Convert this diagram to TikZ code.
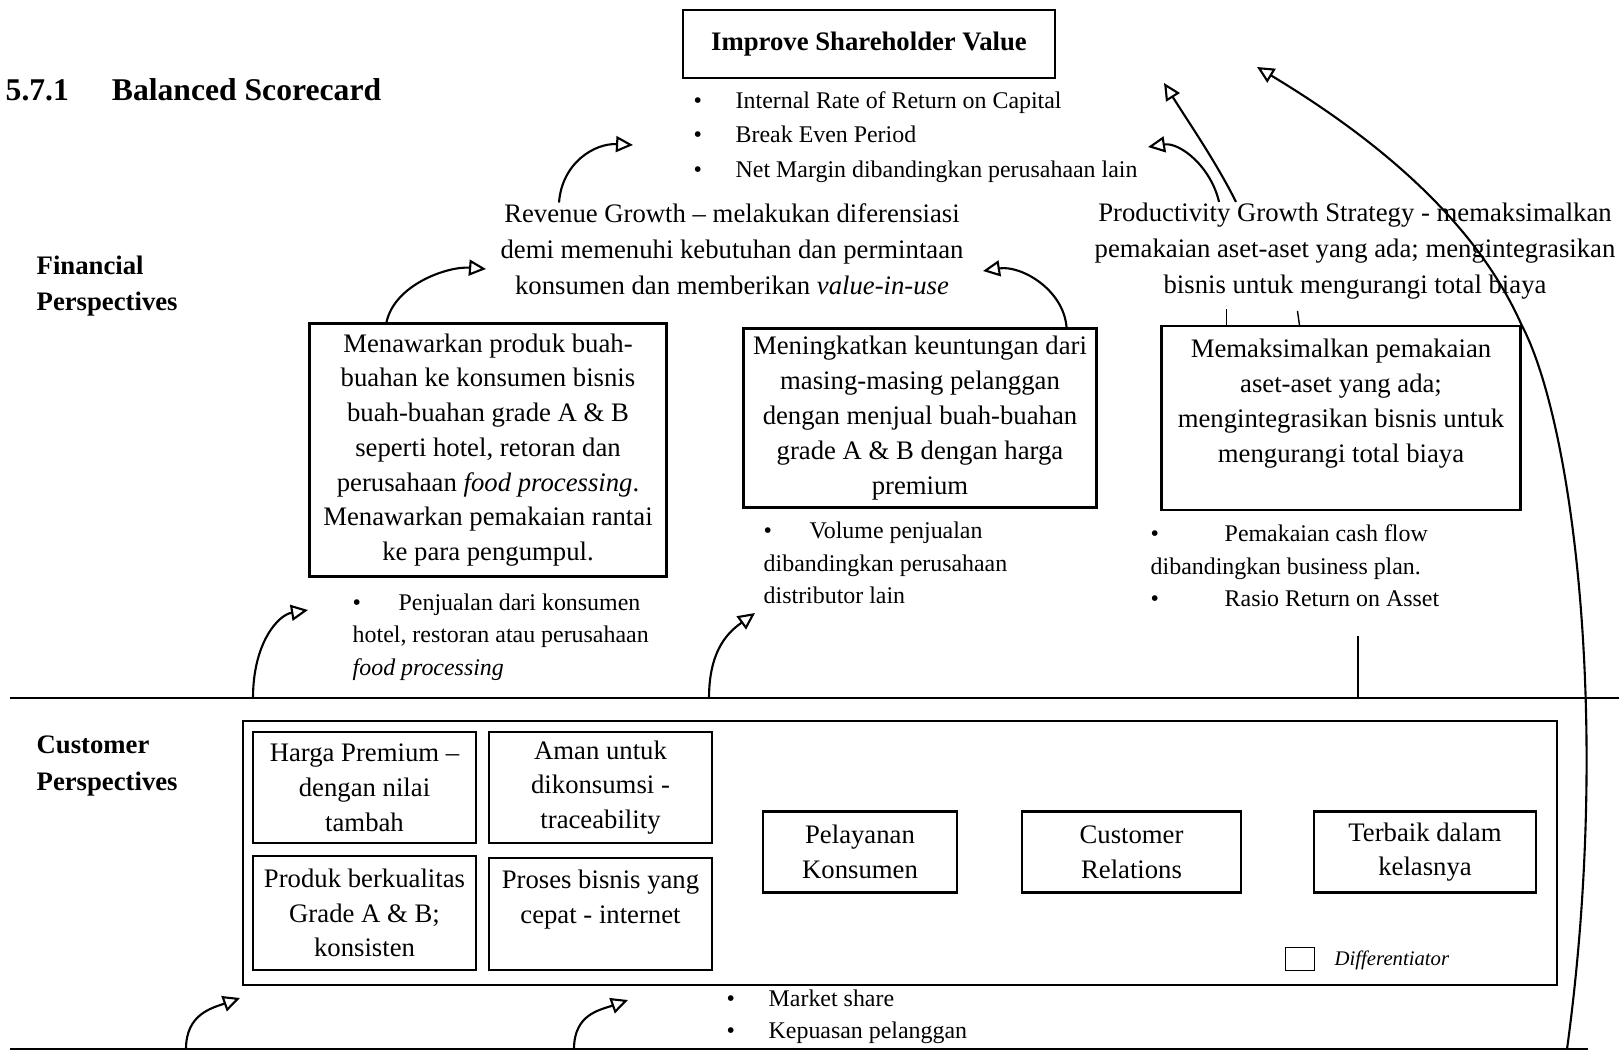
\documentclass[tikz,border=0pt]{standalone}
\usepackage{fontspec}
\setmainfont{Liberation Serif}
\usepackage{tikz}
\usetikzlibrary{arrows.meta,positioning}
\newcommand{\kpibullet}[1][4.2mm]{\makebox[#1][l]{\textbullet}}

\begin{document}
\begin{tikzpicture}[
  x=0.1mm, y=-0.1mm,
  goal/.style={draw, line width=0.6pt, align=center, inner sep=1pt, font=\fontsize{7.6}{9.9}\selectfont},
  driver/.style={align=center, inner sep=0pt, font=\fontsize{7.6}{10.3}\selectfont},
  kpi/.style={align=left, inner sep=0pt, anchor=west, font=\fontsize{6.8}{9.2}\selectfont},
  persp/.style={align=left, inner sep=0pt, anchor=west, font=\bfseries\fontsize{7.6}{10.3}\selectfont},
  flow/.style={-{Triangle[open, length=1.7mm, width=1.6mm]}, line width=0.6pt}
]
  \useasboundingbox (0,0) rectangle (1622,1053);

  % Heading
  \node[anchor=west, inner sep=0pt, font=\bfseries\fontsize{9}{11}\selectfont] (heading) at (5,90) {5.7.1\hspace{4.3mm}Balanced Scorecard};

  % Financial perspective
  \node[goal, font=\bfseries\fontsize{7.6}{9.9}\selectfont, minimum width=37.2mm, minimum height=6.8mm] (shv) at (869,44) {Improve Shareholder Value};
  \node[kpi, font=\fontsize{6.8}{9.8}\selectfont] (shvkpi) at (693,137) {\kpibullet Internal Rate of Return on Capital\\ \kpibullet Break Even Period\\ \kpibullet Net Margin dibandingkan perusahaan lain};

  \node[driver] (rev) at (732,249) {Revenue Growth -- melakukan diferensiasi\\demi memenuhi kebutuhan dan permintaan\\konsumen dan memberikan \textit{value-in-use}};
  \node[driver] (prod) at (1355,251) {Productivity Growth Strategy - memaksimalkan\\pemakaian aset-aset yang ada; mengintegrasikan\\bisnis untuk mengurangi total biaya};
  \node[persp] (finlabel) at (36,286) {Financial\\Perspectives};

  \node[goal, minimum width=35.7mm, minimum height=25.3mm] (offer) at (488,450) {Menawarkan produk buah-\\buahan ke konsumen bisnis\\buah-buahan grade A \& B\\seperti hotel, retoran dan\\perusahaan \textit{food processing}.\\Menawarkan pemakaian rantai\\ke para pengumpul.};
  \node[goal, minimum width=35.3mm, minimum height=17.9mm] (profit) at (920,418) {Meningkatkan keuntungan dari\\masing-masing pelanggan\\dengan menjual buah-buahan\\grade A \& B dengan harga\\premium};
  \node[goal, minimum width=35.9mm, minimum height=18.4mm] (asset) at (1341,418) {Memaksimalkan pemakaian\\aset-aset yang ada;\\mengintegrasikan bisnis untuk\\mengurangi total biaya\\ \mbox{}};

  \node[kpi] (offerkpi) at (352,637) {\kpibullet[4.6mm]Penjualan dari konsumen\\hotel, restoran atau perusahaan\\\textit{food processing}};
  \node[kpi] (profitkpi) at (763,563) {\kpibullet[4.6mm]Volume penjualan\\dibandingkan perusahaan\\distributor lain};
  \node[kpi] (assetkpi) at (1150,566) {\kpibullet[7.4mm]Pemakaian cash flow\\dibandingkan business plan.\\\kpibullet[7.4mm]Rasio Return on Asset};

  % Divider
  \coordinate (divL) at (10,698);
  \coordinate (divR) at (1619,698);
  \draw[line width=0.6pt] (divL) -- (divR);

  % Customer perspective
  \node[persp] (custlabel) at (36,766) {Customer\\Perspectives};
  \node[draw, line width=0.6pt, minimum width=131.4mm, minimum height=26.4mm, inner sep=0pt] (custframe) at (900,853) {};
  \node[goal, minimum width=22.3mm, minimum height=11.1mm] (premium) at (364.5,787.5) {Harga Premium --\\dengan nilai\\tambah};
  \node[goal, minimum width=22.3mm, minimum height=11.1mm] (safe) at (600.5,787.5) {Aman untuk\\dikonsumsi -\\traceability};
  \node[goal, minimum width=22.3mm, minimum height=11.4mm] (quality) at (364.5,913) {Produk berkualitas\\Grade A \& B;\\konsisten};
  \node[goal, minimum width=22.3mm, minimum height=11.2mm] (fast) at (600.5,914) {Proses bisnis yang\\cepat - internet\\ \mbox{}};
  \node[goal, minimum width=19.4mm, minimum height=8.1mm] (service) at (860,852) {Pelayanan\\Konsumen};
  \node[goal, minimum width=21.9mm, minimum height=8.1mm] (relation) at (1131.5,852) {Customer\\Relations};
  \node[goal, minimum width=22.2mm, minimum height=8.1mm] (best) at (1425,852) {Terbaik dalam\\kelasnya};
  \node[draw, line width=0.5pt, minimum width=2.9mm, minimum height=2.3mm, inner sep=0pt] (legendbox) at (1300,959) {};
  \node[anchor=west, inner sep=0pt, font=\itshape\fontsize{5.9}{7}\selectfont] (legendtext) at (1334,960) {Differentiator};
  \node[kpi] (custkpi) at (726,1017) {\kpibullet Market share\\\kpibullet Kepuasan pelanggan};

  \coordinate (botL) at (10,1049);
  \coordinate (botR) at (1588,1049);
  \draw[line width=0.6pt] (botL) -- (botR);

  % Arrows
  \coordinate (revtip) at (486,269);
  \coordinate (revtipB) at (983,271);
  \coordinate (shvtipA) at (633,145);
  \coordinate (shvtipB) at (1148,147);
  \coordinate (shvtipC) at (1164,83);
  \coordinate (shvtipD) at (1257,67);
  \draw[flow] ([xshift=7.8mm]offer.north west) .. controls +(8,-38) and +(-38,-3) .. (revtip);
  \draw[flow] ([xshift=-17.3mm]rev.north) .. controls +(3,-40) and +(-38,-2) .. (shvtipA);
  \draw[flow] ([xshift=-3.1mm]profit.north east) .. controls +(-3,-38) and +(38,-6) .. (revtipB);
  \draw[flow] ([xshift=-13.6mm]prod.north) .. controls +(-8,-35) and +(32,-5) .. (shvtipB);
  \draw[flow] ([xshift=-11.9mm]prod.north) .. controls +(-20,-40) and +(25,40) .. (shvtipC);
  \coordinate (rfoot) at (1567,1049);
  \draw[flow] (rfoot) .. controls (1612,720) and (1572,420) .. (asset.north east) .. controls (1475,220) and (1375,138) .. (shvtipD);
  \draw ([xshift=6.6mm]asset.north west) -- ++(0,-16);
  \draw ([xshift=13.9mm]asset.north west) -- ++(-2,-14);
  \coordinate (assetlink) at (1358,636);
  \coordinate (assetfoot) at (1358,698);
  \draw (assetlink) -- (assetfoot);

  \coordinate (fin1) at (253,698);
  \coordinate (fin1tip) at (308,610);
  \coordinate (fin2) at (709,698);
  \coordinate (fin2tip) at (755,613);
  \draw[flow] (fin1) .. controls +(0,-55) and +(-30,5) .. (fin1tip);
  \draw[flow] (fin2) .. controls +(0,-50) and +(-25,18) .. (fin2tip);
  \coordinate (cus1) at (186,1049);
  \coordinate (cus1tip) at (240,998);
  \coordinate (cus2) at (574,1049);
  \coordinate (cus2tip) at (628,1000);
  \draw[flow] (cus1) .. controls +(0,-35) and +(-28,10) .. (cus1tip);
  \draw[flow] (cus2) .. controls +(0,-35) and +(-28,10) .. (cus2tip);
\end{tikzpicture}
\end{document}
